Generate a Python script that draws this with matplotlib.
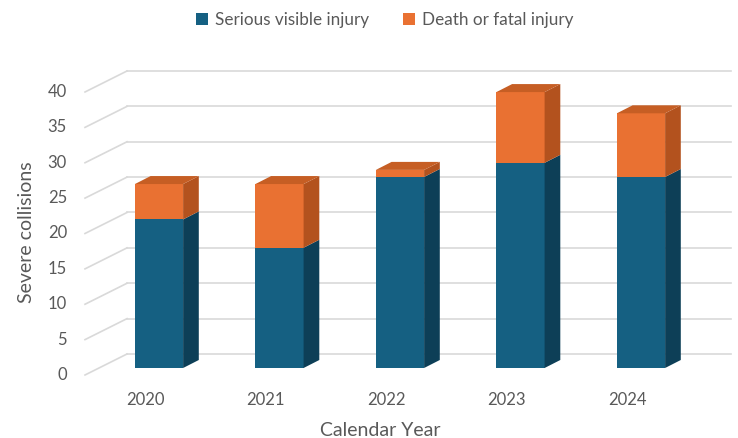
import matplotlib
matplotlib.use("Agg")
import matplotlib.pyplot as plt
from matplotlib.patches import Polygon, Patch

# ---- data ----
years = ["2020", "2021", "2022", "2023", "2024"]
serious = [21, 17, 27, 29, 27]
death = [5, 9, 1, 10, 9]
yticks = [0, 5, 10, 15, 20, 25, 30, 35, 40]
series_names = ["Serious visible injury", "Death or fatal injury"]

# ---- styles ----
BLUE, BLUE_SIDE, BLUE_TOP = "#156082", "#0D3F57", "#11506e"
ORANGE, ORANGE_SIDE, ORANGE_TOP = "#E97132", "#B3521E", "#C65E24"
GRID = "#d9d9d9"
TXT = "#595959"
FONT = ["Lato", "DejaVu Sans"]
plt.rcParams["font.family"] = FONT

W, H = 738, 438
PX_X = 120.5   # px per category
PX_Y = 7.075   # px per unit
X0PX, Y0PX = 159, 368  # pixel of category 0 / value 0 (front plane)

def dx(p):
    return p / PX_X

def dy(p):
    return p / PX_Y

fig = plt.figure(figsize=(W / 100, H / 100), dpi=100)
ax = fig.add_axes([0, 0, 1, 1])
ax.set_xlim((0 - X0PX) / PX_X, (W - X0PX) / PX_X)
ax.set_ylim((Y0PX - H) / PX_Y, Y0PX / PX_Y)
ax.axis("off")

# back wall gridlines + floor diagonals
xg0 = (127 - X0PX) / PX_X
xg1 = (731 - X0PX) / PX_X
xf0 = (85 - X0PX) / PX_X
for v in yticks:
    ax.plot([xg0, xg1], [v + dy(14), v + dy(14)], color=GRID, lw=1.2, zorder=1)
    ax.plot([xf0, xg0], [v - dy(7), v + dy(14)], color=GRID, lw=1.2, zorder=1)
    ax.text((67 - X0PX) / PX_X, v - dy(7), str(v), ha="right", va="center",
            fontsize=12, color=TXT)

# bars
bw = 0.4
ddx, ddy = dx(15.7), dy(8)
xs = list(range(len(years)))
ax.bar(xs, serious, width=bw, color=BLUE, zorder=3, linewidth=0)
ax.bar(xs, death, width=bw, bottom=serious, color=ORANGE, zorder=3, linewidth=0)

for x, s, d in zip(xs, serious, death):
    xr = x + bw / 2
    xl = x - bw / 2
    # side faces
    ax.add_patch(Polygon([(xr, 0), (xr + ddx, ddy), (xr + ddx, s + ddy), (xr, s)],
                         closed=True, facecolor=BLUE_SIDE, edgecolor="none", zorder=3))
    ax.add_patch(Polygon([(xr, s), (xr + ddx, s + ddy), (xr + ddx, s + d + ddy), (xr, s + d)],
                         closed=True, facecolor=ORANGE_SIDE, edgecolor="none", zorder=3))
    # top face
    t = s + d
    ax.add_patch(Polygon([(xl, t), (xl + ddx, t + ddy), (xr + ddx, t + ddy), (xr, t)],
                         closed=True, facecolor=ORANGE_TOP if d > 0 else BLUE_TOP,
                         edgecolor="none", zorder=3))
    # category label
    ax.text(x - dx(14), (Y0PX - 400) / PX_Y, years[x], ha="center", va="center",
            fontsize=12, color=TXT)

# axis titles
fig.text(380 / W, 1 - 430 / H, "Calendar Year", ha="center", va="center",
         fontsize=14, color=TXT)
fig.text(27 / W, 1 - 232 / H, "Severe collisions", ha="center", va="center",
         rotation=90, fontsize=14, color=TXT)

# legend
handles = [Patch(facecolor=BLUE, edgecolor="none"), Patch(facecolor=ORANGE, edgecolor="none")]
leg = fig.legend(handles, series_names, loc="center", bbox_to_anchor=(385 / W, 1 - 20 / H),
                 ncol=2, frameon=False, handlelength=0.7, handleheight=0.7,
                 columnspacing=2.0, handletextpad=0.4, fontsize=12.3)
for t in leg.get_texts():
    t.set_color(TXT)

fig.savefig("out.png", dpi=100)
